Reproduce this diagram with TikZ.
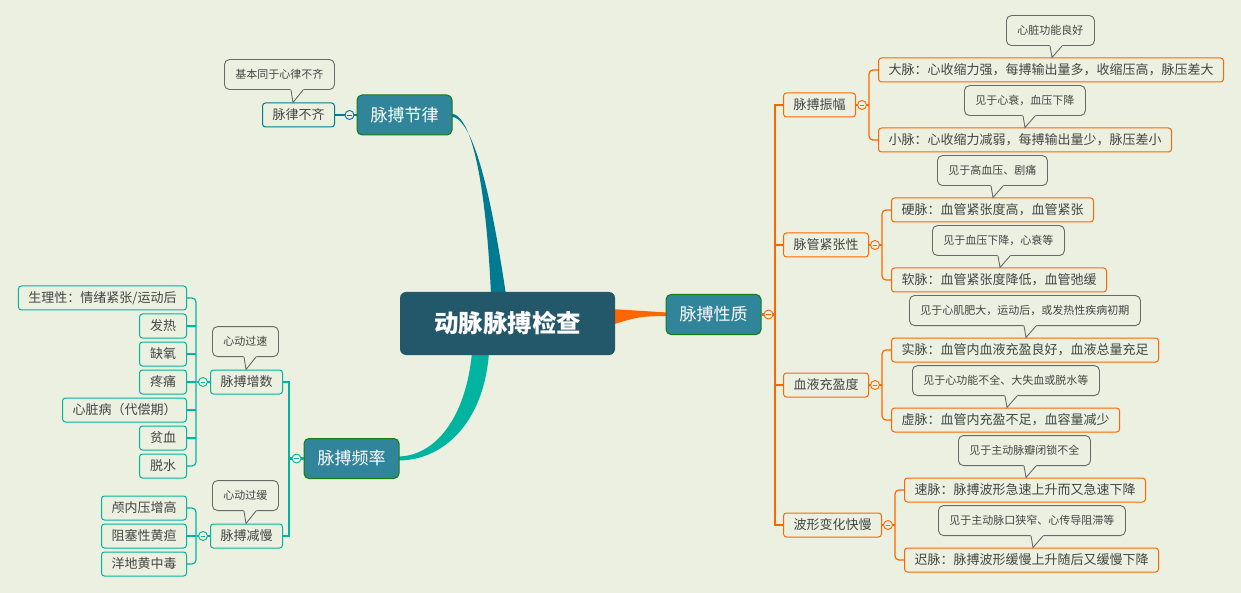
\documentclass[tikz,border=0pt]{standalone}
\usepackage{fontspec}
\setmainfont{Noto Sans CJK SC}
\usetikzlibrary{calc,backgrounds}

\definecolor{bgc}{RGB}{236,240,224}
\definecolor{rootc}{RGB}{34,88,105}
\definecolor{topicc}{RGB}{49,133,155}
\definecolor{edgec}{RGB}{20,125,20}
\definecolor{tealc}{RGB}{0,122,145}
\definecolor{aquac}{RGB}{0,180,160}
\definecolor{orangec}{RGB}{255,102,0}
\definecolor{notec}{RGB}{105,105,105}
\definecolor{txtc}{RGB}{68,68,68}

\tikzset{
  rootbox/.style={rectangle, rounded corners=6, fill=rootc, text=white,
    minimum width=215, minimum height=63, font=\fontsize{24.5}{28}\selectfont\bfseries},
  topicbox/.style={rectangle, rounded corners=5, fill=topicc, draw=edgec, line width=1,
    text=white, minimum width=95, minimum height=40, font=\fontsize{17}{20}\selectfont},
  itembox/.style={rectangle, rounded corners=3, draw=#1, line width=1, fill=bgc, text=txtc,
    minimum height=24, inner xsep=10, font=\fontsize{13}{15}\selectfont},
  notebox/.style={rectangle, rounded corners=5, draw=notec, line width=0.9, fill=bgc, text=txtc,
    minimum height=30, inner xsep=11, font=\fontsize{11}{13}\selectfont},
  foldmark/.style={circle, draw=#1, fill=bgc, line width=0.9, minimum size=9, inner sep=0,
    path picture={\draw[#1, line width=0.9] ([xshift=2.2]path picture bounding box.west)
      -- ([xshift=-2.2]path picture bounding box.east);}},
}

% pointer of a call-out: #1 call-out, #2 item below it, #3 offset from its left edge
\newcommand{\notetip}[3]{%
  \coordinate (#1P) at ($(#1.south west)+(#3,0)$);
  \fill[bgc] ($(#1P)+(-2.5,-1.5)$) -- (#1P |- #2.north) -- ($(#1P)+(11,-1.5)$) -- cycle;
  \draw[notec, line width=0.9] ($(#1P)+(-2,0)$) -- (#1P |- #2.north) -- ($(#1P)+(10,0)$);
}

\begin{document}
\begin{tikzpicture}[x=1pt, y=-1pt]

    % --- Canvas ---
    \useasboundingbox (0,0) rectangle (1241,593);

    % --- Central topic and main topics ---
    \node[rootbox] (dmjc) at (507.5,323.5) {动脉脉搏检查};
    \node[topicbox] (mbjl) at (404.5,115) {脉搏节律};
    \node[topicbox] (mbxz) at (713.5,314.5) {脉搏性质};
    \node[topicbox] (mbpl) at (351.5,458.5) {脉搏频率};

    % --- Rhythm ---
    \node[itembox=tealc, anchor=east] (mlbq) at (335,115) {脉律不齐};
    \draw[tealc, line width=2] (mbjl.west) -- (mlbq.east);
    \node[foldmark=tealc] (fjl) at ($(mbjl.west)+(-7,0)$) {};

    % --- Frequency ---
    \node[itembox=aquac, anchor=east] (mbzs) at (283,382) {脉搏增数};
    \node[itembox=aquac, anchor=east] (mbjm) at (283,536) {脉搏减慢};
    \draw[aquac, line width=2.5] (mbzs.east) -- ++(6,0) |- (mbjm.east);
    \draw[aquac, line width=2.5] (mbpl.west) -- ++(-15,0);
    \node[foldmark=aquac] (fpl) at ($(mbpl.west)+(-7,0)$) {};

    % faster pulse
    \node[itembox=aquac, anchor=east, minimum width=47] (zs1) at (187,298) {生理性：情绪紧张/运动后};
    \node[itembox=aquac, anchor=east, minimum width=47] (zs2) at (187,326) {发热};
    \node[itembox=aquac, anchor=east, minimum width=47] (zs3) at (187,354) {缺氧};
    \node[itembox=aquac, anchor=east, minimum width=47] (zs4) at (187,382) {疼痛};
    \node[itembox=aquac, anchor=east, minimum width=47] (zs5) at (187,410) {心脏病（代偿期）};
    \node[itembox=aquac, anchor=east, minimum width=47] (zs6) at (187,438) {贫血};
    \node[itembox=aquac, anchor=east, minimum width=47] (zs7) at (187,466) {脱水};
    \draw[aquac, line width=1.2, rounded corners=4] (zs1.east) -- ++(9,0) |- (zs7.east);
    \draw[aquac, line width=1.2] (zs2.east) -- ++(9,0) (zs3.east) -- ++(9,0)
        (zs4.east) -- ++(9,0) (zs5.east) -- ++(9,0) (zs6.east) -- ++(9,0)
        (mbzs.west) -- ++(-13,0);
    \node[foldmark=aquac] (fzs) at ($(mbzs.west)+(-7,0)$) {};

    % slower pulse
    \node[itembox=aquac, anchor=east] (jm1) at (187,508) {颅内压增高};
    \node[itembox=aquac, anchor=east] (jm2) at (187,536) {阻塞性黄疸};
    \node[itembox=aquac, anchor=east] (jm3) at (187,564) {洋地黄中毒};
    \draw[aquac, line width=1.2, rounded corners=4] (jm1.east) -- ++(9,0) |- (jm3.east);
    \draw[aquac, line width=1.2] (jm2.east) -- ++(9,0) (mbjm.west) -- ++(-13,0);
    \node[foldmark=aquac] (fjm) at ($(mbjm.west)+(-7,0)$) {};

    % --- Character of the pulse ---
    \node[itembox=orangec, anchor=west] (mbzf) at (783,105) {脉搏振幅};
    \node[itembox=orangec, anchor=west] (mgjz) at (783,245) {脉管紧张性};
    \node[itembox=orangec, anchor=west] (xycy) at (783,385) {血液充盈度};
    \node[itembox=orangec, anchor=west] (bxbh) at (783,525) {波形变化快慢};
    \draw[orangec, line width=2.5] (mbxz.east) -- ++(14,0);
    \draw[orangec, line width=2.5] (mbzf.west) -- ++(-8,0) |- (bxbh.west);
    \draw[orangec, line width=2.5] (mgjz.west) -- ++(-8,0) (xycy.west) -- ++(-8,0);
    \node[foldmark=orangec] (fxz) at ($(mbxz.east)+(7,0)$) {};

    \node[itembox=orangec, anchor=west] (dmai) at (878,70) {大脉：心收缩力强，每搏输出量多，收缩压高，脉压差大};
    \node[itembox=orangec, anchor=west] (xmai) at (878,140) {小脉：心收缩力减弱，每搏输出量少，脉压差小};
    \node[itembox=orangec, anchor=west] (ymai) at (891,210) {硬脉：血管紧张度高，血管紧张};
    \node[itembox=orangec, anchor=west] (rmai) at (891,280) {软脉：血管紧张度降低，血管弛缓};
    \node[itembox=orangec, anchor=west] (smai) at (891,350) {实脉：血管内血液充盈良好，血液总量充足};
    \node[itembox=orangec, anchor=west] (xumai) at (891,420) {虚脉：血管内充盈不足，血容量减少};
    \node[itembox=orangec, anchor=west] (sumai) at (904,490) {速脉：脉搏波形急速上升而又急速下降};
    \node[itembox=orangec, anchor=west] (cmai) at (904,560) {迟脉：脉搏波形缓慢上升随后又缓慢下降};

    % brackets
    \draw[orangec, line width=1.2, rounded corners=4] (dmai.west) -- ++(-9,0) |- (xmai.west);
    \draw[orangec, line width=1.2, rounded corners=4] (ymai.west) -- ++(-9,0) |- (rmai.west);
    \draw[orangec, line width=1.2, rounded corners=4] (smai.west) -- ++(-9,0) |- (xumai.west);
    \draw[orangec, line width=1.2, rounded corners=4] (sumai.west) -- ++(-9,0) |- (cmai.west);
    \draw[orangec, line width=1.2] (mbzf.east) -- ($(mbzf.east -| dmai.west)+(-9,0)$);
    \draw[orangec, line width=1.2] (mgjz.east) -- ($(mgjz.east -| ymai.west)+(-9,0)$);
    \draw[orangec, line width=1.2] (xycy.east) -- ($(xycy.east -| smai.west)+(-9,0)$);
    \draw[orangec, line width=1.2] (bxbh.east) -- ($(bxbh.east -| sumai.west)+(-9,0)$);
    \node[foldmark=orangec] (fzf) at ($(mbzf.east)+(6,0)$) {};
    \node[foldmark=orangec] (fjz) at ($(mgjz.east)+(6,0)$) {};
    \node[foldmark=orangec] (fcy) at ($(xycy.east)+(6,0)$) {};
    \node[foldmark=orangec] (fbh) at ($(bxbh.east)+(6,0)$) {};

    % --- Call-outs ---
    \node[notebox, anchor=south west] (njb) at (224,90) {基本同于心律不齐};
    \node[notebox, anchor=south west] (ngs) at (212,357) {心动过速};
    \node[notebox, anchor=south west] (ngh) at (212,511) {心动过缓};
    \node[notebox, anchor=south west] (nlh) at (1006,46) {心脏功能良好};
    \node[notebox, anchor=south west] (nxs) at (964,116) {见于心衰，血压下降};
    \node[notebox, anchor=south west] (ngx) at (937,186) {见于高血压、剧痛};
    \node[notebox, anchor=south west] (nxj) at (932,256) {见于血压下降，心衰等};
    \node[notebox, anchor=south west] (nxf) at (909,326) {见于心肌肥大，运动后，或发热性疾病初期};
    \node[notebox, anchor=south west] (nxg) at (912,396) {见于心功能不全、大失血或脱水等};
    \node[notebox, anchor=south west] (nbg) at (958,466) {见于主动脉瓣闭锁不全};
    \node[notebox, anchor=south west] (nkx) at (938,536) {见于主动脉口狭窄、心传导阻滞等};
    \notetip{njb}{mlbq}{69}
    \notetip{ngs}{mbzs}{34}
    \notetip{ngh}{mbjm}{34}
    \notetip{nlh}{dmai}{46}
    \notetip{nxs}{xmai}{61}
    \notetip{ngx}{ymai}{56}
    \notetip{nxj}{rmai}{68}
    \notetip{nxf}{smai}{117}
    \notetip{nxg}{xumai}{95}
    \notetip{nbg}{sumai}{68}
    \notetip{nkx}{cmai}{95}

    % --- Tapered branches (behind the boxes) ---
    \begin{scope}[on background layer]
        \fill[bgc] (0,0) rectangle (1241,593);
        \fill[tealc] ($(mbjl.east)+(-2,-1.5)$) .. controls (475,113.5) and (487,205) .. ($(dmjc.north)+(-16.5,3)$)
            -- ($(dmjc.north)+(-1.5,3)$) .. controls (494,215) and (476,116.5) .. ($(mbjl.east)+(-2,1.5)$) -- cycle;
        \fill[aquac] ($(dmjc.south)+(-35.5,-3)$) .. controls (466,418) and (435,456.5) .. ($(mbpl.east)+(-2,-2)$)
            -- ($(mbpl.east)+(-2,2)$) .. controls (442,461) and (484,424) .. ($(dmjc.south)+(-18.5,-3)$) -- cycle;
        \fill[orangec] ($(dmjc.east)+(-4,-14.5)$) .. controls (640,311) .. ($(mbxz.west)+(2,-2)$)
            -- ($(mbxz.west)+(2,1.5)$) .. controls (639,316.5) .. ($(dmjc.east)+(-4,1.5)$) -- cycle;
    \end{scope}

\end{tikzpicture}
\end{document}
